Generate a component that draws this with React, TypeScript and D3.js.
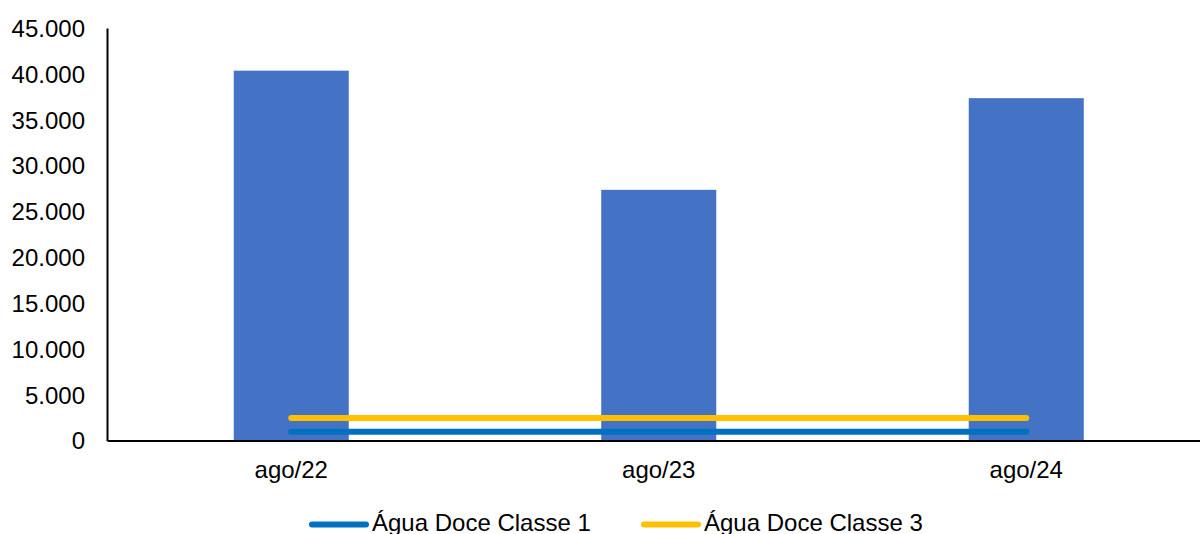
import React from "react";
import * as d3 from "d3";

const categories = ["ago/22", "ago/23", "ago/24"];
const barValues = [40400, 27400, 37400];
const classe1 = [1000, 1000, 1000];
const classe3 = [2500, 2500, 2500];
const yTicks = [0, 5000, 10000, 15000, 20000, 25000, 30000, 35000, 40000, 45000];
const legendLabels = ["Água Doce Classe 1", "Água Doce Classe 3"];

const W = 1200;
const H = 534;
const FONT = "'Liberation Sans', Arial, sans-serif";

export default function App() {
  const x = d3
    .scaleBand<string>()
    .domain(categories)
    .range([107.5, 1210])
    .paddingInner(0.687)
    .paddingOuter(0.3435);
  const y = d3.scaleLinear().domain([0, 45000]).range([441, 28.5]);
  const fmt = (v: number) => d3.format(",")(v).replace(/,/g, ".");
  const cx = (c: string) => (x(c) as number) + x.bandwidth() / 2;
  const line = d3
    .line<number>()
    .x((_, i) => cx(categories[i]))
    .y((d) => y(d));

  const series = [
    { name: legendLabels[0], values: classe1, color: "#0070C0" },
    { name: legendLabels[1], values: classe3, color: "#FFC000" },
  ];
  const legendX = [310, 642];

  return (
    <svg
      width={W}
      height={H}
      style={{ position: "absolute", left: 0, top: 0, background: "#fff" }}
      fontFamily={FONT}
    >
      {categories.map((c, i) => (
        <rect
          key={c}
          x={x(c)}
          y={y(barValues[i])}
          width={x.bandwidth()}
          height={y(0) - y(barValues[i])}
          fill="#4472C4"
        />
      ))}
      {series.map((s) => (
        <path
          key={s.name}
          d={line(s.values) || ""}
          fill="none"
          stroke={s.color}
          strokeWidth={6}
          strokeLinecap="round"
        />
      ))}
      <line x1={107.5} x2={1200} y1={441} y2={441} stroke="#000" strokeWidth={2} />
      <line x1={107.5} x2={107.5} y1={28.5} y2={441} stroke="#000" strokeWidth={2} />
      {yTicks.map((t) => (
        <text
          key={t}
          x={85}
          y={y(t)}
          dy="0.35em"
          textAnchor="end"
          fontSize={24}
          fill="#000"
        >
          {fmt(t)}
        </text>
      ))}
      {categories.map((c) => (
        <text key={c} x={cx(c)} y={478} textAnchor="middle" fontSize={24} fill="#000">
          {c}
        </text>
      ))}
      {series.map((s, i) => (
        <g key={s.name}>
          <line
            x1={legendX[i] + 2}
            x2={legendX[i] + 56}
            y1={524.5}
            y2={524.5}
            stroke={s.color}
            strokeWidth={6}
            strokeLinecap="round"
          />
          <text x={legendX[i] + 62} y={531} fontSize={24} fill="#000">
            {s.name}
          </text>
        </g>
      ))}
    </svg>
  );
}
